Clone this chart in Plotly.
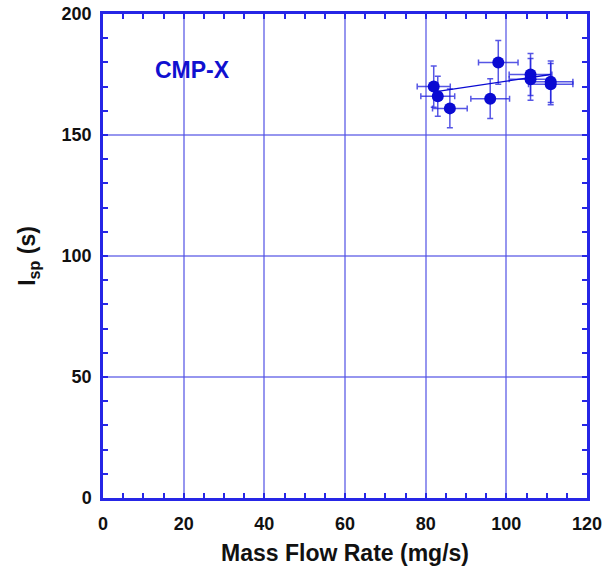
import plotly.graph_objects as go

# Measured thruster performance
mass_flow = [82, 83, 86, 96, 98, 106, 106, 111, 111]        # mg/s
isp = [170, 166, 161, 165, 180, 175, 173, 172, 171]          # s
mass_flow_err = [4.1, 4.2, 4.3, 4.8, 4.9, 5.3, 5.3, 5.5, 5.5]
isp_err = [8.5, 8.3, 8.0, 8.2, 9.0, 8.7, 8.6, 8.6, 8.5]

# Linear trend end points
fit_x = [83, 111]
fit_y = [168, 175]

blue = "#0a0ad2"
frame = "#2626e6"
grid = "rgba(80,80,228,0.6)"

fig = go.Figure()

fig.add_trace(go.Scatter(
    x=mass_flow, y=isp, mode="markers",
    marker=dict(size=12, color=blue),
    error_x=dict(type="data", array=mass_flow_err, color="rgba(30,30,220,0.75)",
                 thickness=1.5, width=3),
    error_y=dict(type="data", array=isp_err, color="rgba(30,30,220,0.75)",
                 thickness=1.5, width=3),
    showlegend=False,
))

fig.add_trace(go.Scatter(
    x=fit_x, y=fit_y, mode="lines",
    line=dict(color=blue, width=1.3),
    showlegend=False,
))

fig.add_annotation(
    x=22.3, y=177, text="<b>CMP-X</b>", showarrow=False,
    font=dict(family="Liberation Sans, Arial", size=23, color="#1010d0"),
)

tickfont = dict(family="Liberation Sans, Arial", size=18, color="#111111")
titlefont = dict(family="Liberation Sans, Arial", size=23, color="#111111")

fig.update_xaxes(
    range=[0, 120], tick0=0, dtick=20,
    tickprefix="<b>", ticksuffix="</b>",
    showgrid=True, gridcolor=grid, gridwidth=1.5,
    showline=True, linecolor=frame, linewidth=2.5, mirror="ticks",
    ticks="inside", ticklen=5, tickcolor=frame, tickwidth=1.5,
    minor=dict(dtick=5, ticks="inside", ticklen=5, tickcolor=frame, tickwidth=1.5, showgrid=False),
    zeroline=False, tickfont=tickfont, ticklabelstandoff=8,
    title=dict(text="<b>Mass Flow Rate (mg/s)</b>", font=titlefont, standoff=12),
)
fig.update_yaxes(
    range=[0, 200], tick0=0, dtick=50,
    tickprefix="<b>", ticksuffix="</b>",
    showgrid=True, gridcolor=grid, gridwidth=1.5,
    showline=True, linecolor=frame, linewidth=2.5, mirror="ticks",
    ticks="inside", ticklen=5, tickcolor=frame, tickwidth=1.5,
    minor=dict(dtick=10, ticks="inside", ticklen=5, tickcolor=frame, tickwidth=1.5, showgrid=False),
    zeroline=False, tickfont=tickfont, ticklabelstandoff=5,
    title=dict(text="<b>I<sub>sp</sub> (s)</b>", font=titlefont, standoff=20),
)

fig.update_layout(
    width=613, height=573,
    margin=dict(l=103, r=26, t=14, b=75, autoexpand=False),
    paper_bgcolor="white", plot_bgcolor="white",
)

fig.write_html("out.html")
